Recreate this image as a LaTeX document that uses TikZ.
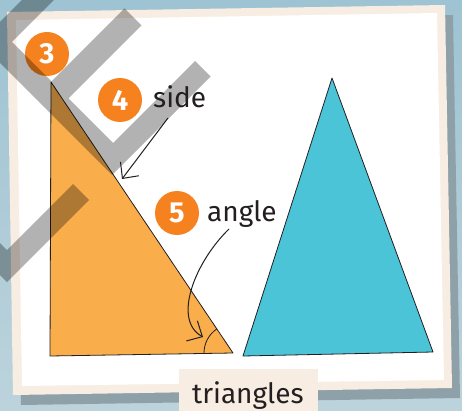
\documentclass[tikz,border=0pt]{standalone}
\usepackage{fontspec}
\setmainfont{Fira Sans}
\usetikzlibrary{arrows.meta}
\definecolor{bgtop}{HTML}{9EC3D2}
\definecolor{bgbot}{HTML}{BCD3DC}
\definecolor{shadowc}{HTML}{8FA1A8}
\definecolor{cream}{HTML}{F8EDE2}
\definecolor{orangec}{HTML}{F5821F}
\definecolor{orangetri}{HTML}{F9AD4B}
\definecolor{bluetri}{HTML}{4BC4D8}
\definecolor{ink}{HTML}{231F20}
\tikzset{
  tri/.style={draw=ink, line width=0.8pt, line join=round},
  tape/.style={fill=black, fill opacity=0.3},
  numdot/.style={circle, fill=orangec, minimum size=44pt, inner sep=0pt, text=white, font=\fontsize{29}{29}\selectfont\bfseries},
  lab/.style={text=ink, inner sep=0pt, anchor=base west, font=\fontsize{28}{28}\selectfont},
  arr/.style={draw=ink, line width=1pt, -{Straight Barb[length=12pt,width=23pt,line width=1pt]}}
}
\begin{document}
\begin{tikzpicture}[x=1pt,y=-1pt]
\useasboundingbox (0,0) rectangle (462,411);
% background
\shade[top color=bgtop,bottom color=bgbot] (0,0) rectangle (462,411);
% card shadow, card
\fill[shadowc] (15,22) -- (453,15) -- (460,398) -- (21,405) -- cycle;
\fill[cream] (7,12) -- (445,5) -- (452,388) -- (13,395) -- cycle;
\fill[white] (16,20) -- (437,13) -- (444,380) -- (22,386) -- cycle;
% triangles
\path[tri, fill=orangetri] (51,82) -- (233,353) -- (50,356) -- cycle;
\path[tri, fill=bluetri] (332,78) -- (433,352) -- (243,356) -- cycle;
% angle mark
\draw[ink, line width=0.8pt] (204,353) arc[start angle=180, end angle=236.1, radius=29];
% number dots
\node[numdot] (c3) at (47,54) {3};
\node[numdot] (c4) at (120,100) {4};
\node[numdot] (c5) at (177,213) {5};
% grey tape marks
\fill[tape] (42,-20) -- (-4,26) -- (-30,0) -- (-30,33) -- (112,175) -- (210.5,76.5)
  -- (195,61) -- (113,143) -- (68.5,98.5) -- (141.5,25.5) -- (124.5,8.5)
  -- (51.5,81.5) -- (12,42) -- (74,-20) -- cycle;
\fill[tape] (-30,213) -- (7,250) -- (73,184) -- (89,200) -- (7,282) -- (-30,245) -- cycle;
% labels
\node[lab] (side) at (153,108) {side};
\node[lab] (angle) at (207,222) {angle};
\fill[cream] (179,369) rectangle (318,415);
\node[lab] (tri) at (192,403) {triangles};
% arrows
\coordinate (sidestart) at (168,118);
\coordinate (sidetip) at (122,179);
\coordinate (anglestart) at (229,229);
\coordinate (angletip) at (203,337);
\draw[arr] (sidestart) -- (sidetip);
\draw[arr] (anglestart) .. controls (195,262) and (172,320) .. (angletip);
\end{tikzpicture}
\end{document}
